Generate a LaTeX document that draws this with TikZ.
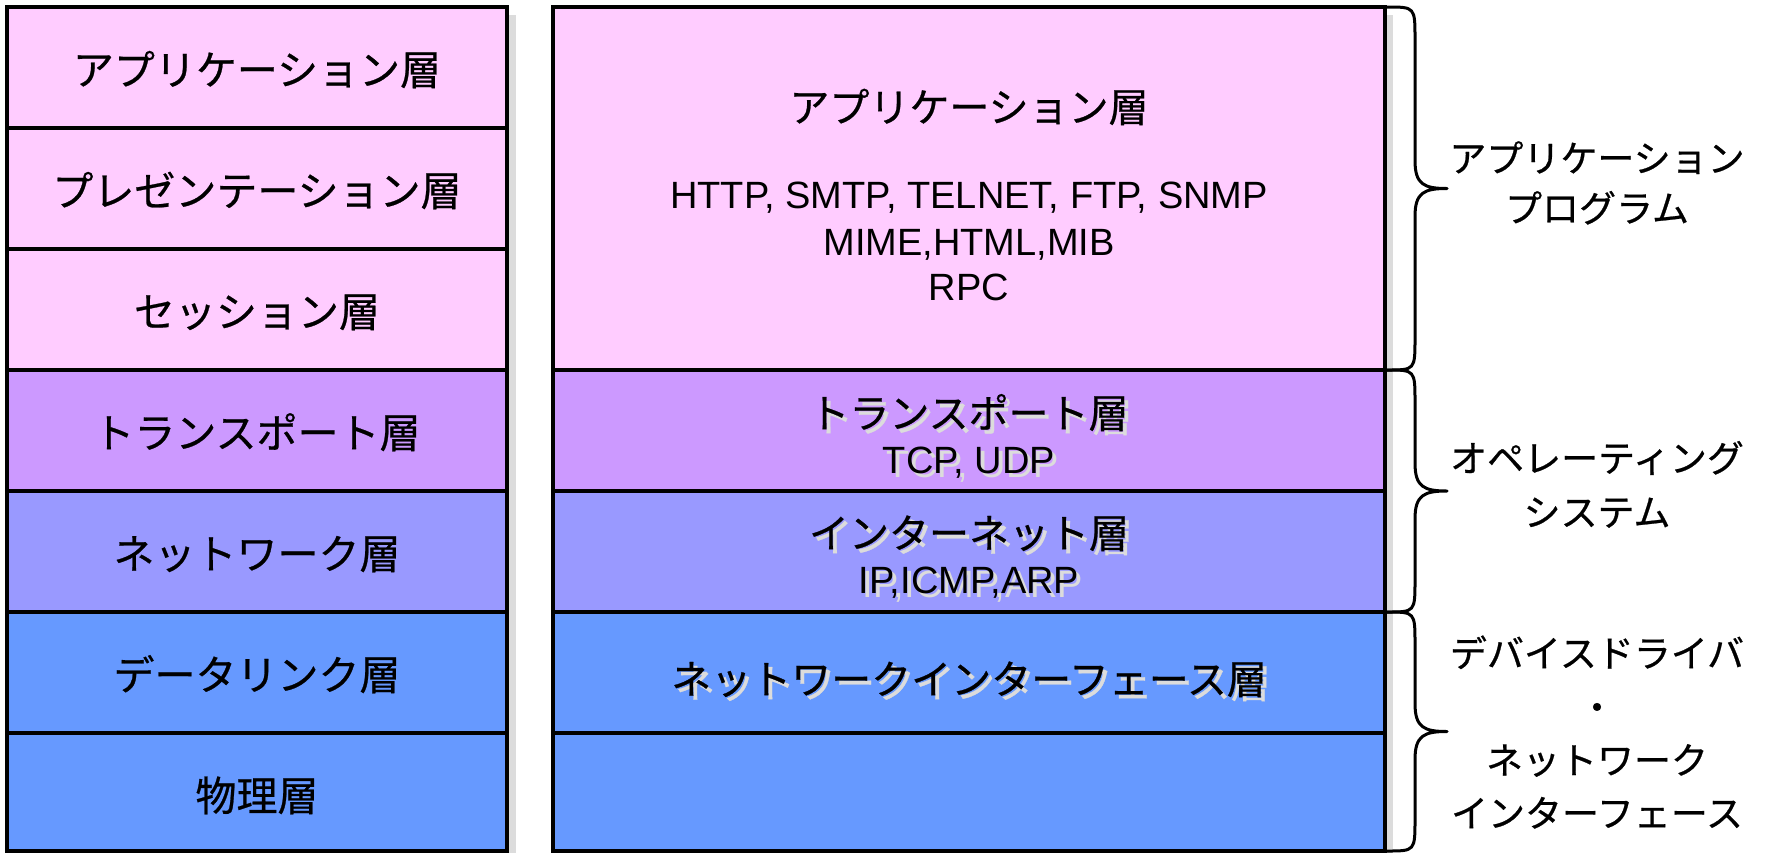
\documentclass[tikz,border=0pt]{standalone}
\usepackage{fontspec}
\setmainfont{Liberation Sans}
\newfontfamily\jpfont[FakeBold=0.6]{Noto Sans CJK JP}
\definecolor{cPink}{HTML}{FFCCFF}
\definecolor{cPurple}{HTML}{CC99FF}
\definecolor{cLav}{HTML}{9999FF}
\definecolor{cBlue}{HTML}{6699FF}
\definecolor{cShadow}{HTML}{DCDCDC}
\newcommand{\mybrace}[2]{%
  \draw[bracestyle] (1387,#1) .. controls (1415,#1) .. (1415,{#1+32})
    -- (1415,{(#1+#2)/2-28}) .. controls (1415,{(#1+#2)/2-4}) and (1424,{(#1+#2)/2}) .. (1447,{(#1+#2)/2})
    .. controls (1424,{(#1+#2)/2}) and (1415,{(#1+#2)/2+4}) .. (1415,{(#1+#2)/2+28})
    -- (1415,{#2-32}) .. controls (1415,#2) .. (1387,#2);}
\begin{document}
\begin{tikzpicture}[x=0.5pt,y=-0.5pt,
  box/.style={draw=black, line width=1.75pt},
  bracestyle/.style={draw=black, line width=1.5pt, line join=round},
  jpL/.style={anchor=base, inner sep=0pt, font=\jpfont\fontsize{20.5pt}{24pt}\selectfont},
  jpR/.style={anchor=base, inner sep=0pt, font=\jpfont\fontsize{20pt}{24pt}\selectfont},
  enL/.style={anchor=base, inner sep=0pt, font=\fontsize{19pt}{22pt}\selectfont},
  lbl/.style={anchor=base, inner sep=0pt, font=\jpfont\fontsize{18.5pt}{22pt}\selectfont},
  shd/.style={text=cShadow}
]
\useasboundingbox (0,0) rectangle (1766,852);
% box shadows
\fill[cShadow] (15,15) rectangle (516,870);
\fill[cShadow] (561,15) rectangle (1393,870);
% left column
\draw[box, fill=cPink]   (7,7)   rectangle (507,128);
\draw[box, fill=cPink]   (7,128) rectangle (507,249);
\draw[box, fill=cPink]   (7,249) rectangle (507,370);
\draw[box, fill=cPurple] (7,370) rectangle (507,491);
\draw[box, fill=cLav]    (7,491) rectangle (507,612);
\draw[box, fill=cBlue]   (7,612) rectangle (507,733);
\draw[box, fill=cBlue]   (7,733) rectangle (507,851);
% right column
\draw[box, fill=cPink]   (553,7)   rectangle (1385,370);
\draw[box, fill=cPurple] (553,370) rectangle (1385,491);
\draw[box, fill=cLav]    (553,491) rectangle (1385,612);
\draw[box, fill=cBlue]   (553,612) rectangle (1385,733);
\draw[box, fill=cBlue]   (553,733) rectangle (1385,851);
% left texts
\node[jpL] (l1) at (257,85)  {アプリケーション層};
\node[jpL] (l2) at (257,206) {プレゼンテーション層};
\node[jpL] (l3) at (257,327) {セッション層};
\node[jpL] (l4) at (257,448) {トランスポート層};
\node[jpL] (l5) at (257,569) {ネットワーク層};
\node[jpL] (l6) at (257,690) {データリンク層};
\node[jpL] (l7) at (257,811) {物理層};
% right column texts
\node[jpR] (r1) at (969,122) {アプリケーション層};
\node[enL] (r1a) at (969,208) {HTTP, SMTP, TELNET, FTP, SNMP};
\node[enL] (r1b) at (969,255) {MIME,HTML,MIB};
\node[enL] (r1c) at (969,300) {RPC};
\node[jpR, shd] (r2s) at (973,432) {トランスポート層};
\node[jpR] (r2) at (969,428) {トランスポート層};
\node[enL, shd] (r2as) at (973,477) {TCP, UDP};
\node[enL] (r2a) at (969,473) {TCP, UDP};
\node[jpR, shd] (r3s) at (973,552) {インターネット層};
\node[jpR] (r3) at (969,548) {インターネット層};
\node[enL, shd] (r3as) at (973,597) {IP,ICMP,ARP};
\node[enL] (r3a) at (969,593) {IP,ICMP,ARP};
\node[jpR, shd] (r4s) at (973,698) {ネットワークインターフェース層};
\node[jpR] (r4) at (969,694) {ネットワークインターフェース層};
% braces
\mybrace{7}{370}
\mybrace{370}{612}
\mybrace{612}{851}
% brace labels
\node[lbl] (b1a) at (1597,172) {アプリケーション};
\node[lbl] (b1b) at (1597,222) {プログラム};
\node[lbl] (b2a) at (1597,472) {オペレーティング};
\node[lbl] (b2b) at (1597,526) {システム};
\node[lbl] (b3a) at (1597,667) {デバイスドライバ};
\node[lbl] (b3b) at (1597,721) {・};
\node[lbl] (b3c) at (1597,774) {ネットワーク};
\node[lbl] (b3d) at (1597,827) {インターフェース};
\end{tikzpicture}
\end{document}
